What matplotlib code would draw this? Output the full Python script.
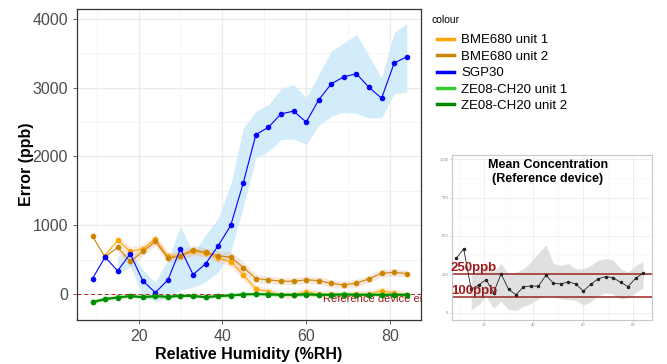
import numpy as np
import matplotlib
matplotlib.use("Agg")
import matplotlib.pyplot as plt
from matplotlib.lines import Line2D
from matplotlib.ticker import MultipleLocator

plt.rcParams['font.family'] = ['Liberation Sans', 'DejaVu Sans']

nan = np.nan

# relative humidity bins (%RH)
rh = [9, 12, 15, 18, 21, 24, 27, 30, 33, 36, 39, 42, 45, 48, 51, 54, 57, 60, 63, 66, 69, 72, 75, 78, 81, 84]

# error (ppb) per sensor
bme1 = [nan, 560, 785, 620, 659, 800, 547, 561, 620, 596, 523, 470, 281, 73, 38, -10, -10, 38, 0, 0, -10, 0, 0, 48, 15, -10]
bme1_hi = [nan, nan, 850, 690, 720, 860, 610, 620, 680, 650, 590, 540, 350, 130, 90, 40, 40, 90, 50, 50, 40, 50, 55, 100, 70, 40]
bme1_lo = [nan, nan, 720, 550, 600, 740, 490, 500, 560, 540, 460, 400, 210, 20, -15, -60, -60, -15, -50, -50, -60, -50, -50, 0, -40, -60]

bme2 = [838, 540, 678, 475, 620, 766, 523, 555, 644, 605, 557, 538, 387, 227, 208, 189, 189, 208, 198, 155, 135, 160, 223, 305, 315, 300]
bme2_hi = [nan, nan, 740, 560, 680, 830, 590, 620, 710, 670, 630, 620, 470, 290, 260, 240, 240, 260, 250, 210, 190, 215, 280, 360, 370, 350]
bme2_lo = [nan, nan, 610, 400, 560, 700, 460, 490, 580, 540, 490, 460, 310, 170, 155, 140, 140, 155, 145, 100, 80, 105, 170, 250, 260, 250]

sgp = [227, 538, 339, 586, 193, 23, 208, 659, 285, 441, 703, 999, 1619, 2317, 2424, 2618, 2657, 2497, 2822, 3054, 3156, 3200, 3001, 2845, 3354, 3447]
sgp_hi = [nan, nan, 550, 620, 360, 170, 500, 990, 600, 860, 1100, 1600, 2410, 2656, 2753, 2982, 3044, 2851, 3190, 3529, 3651, 3772, 3456, 3142, 3796, 3932]
sgp_lo = [nan, nan, 280, 400, -10, -110, -40, 60, 100, 180, 320, 620, 1270, 1978, 2074, 2244, 2254, 2172, 2448, 2583, 2641, 2623, 2560, 2560, 2913, 2933]

ze1 = [-110, -65, -45, -25, -40, -25, -35, -20, -25, -38, -25, -15, 0, 5, 0, -5, -5, 0, -5, -5, 0, -5, -5, -5, -5, -5]
ze2 = [-117, -73, -49, -29, -45, -29, -40, -24, -29, -44, -29, -20, -5, 0, -5, -10, -10, -5, -10, -10, -5, -10, -10, -10, -10, -10]

# reference device mean concentration (ppb)
ref_mean = [354, 416, 152, 181, 215, 130, 253, 152, 117, 168, 174, 172, 244, 192, 187, 201, 187, 141, 184, 221, 235, 228, 197, 170, 224, 257]
ref_hi = [nan, nan, 245, 275, 308, 264, 320, 253, 264, 286, 331, 387, 442, 320, 308, 320, 286, 286, 308, 342, 353, 342, 286, 264, 308, 331]
ref_lo = [nan, nan, 18, 52, 107, 29, 74, 20, 15, 40, 60, 90, 110, 100, 90, 85, 80, 50, 70, 110, 130, 120, 90, 95, 130, 160]
thresholds = [250, 100]
threshold_labels = ["250ppb", "100ppb"]

labels = ["BME680 unit 1", "BME680 unit 2", "SGP30", "ZE08-CH20 unit 1", "ZE08-CH20 unit 2"]
colors = ["#FFA500", "#CD8500", "#0000FF", "#32CD32", "#008B00"]

fig = plt.figure(figsize=(6.67, 3.64), dpi=100)
ax = fig.add_axes([77 / 667, 1 - 320 / 364, (421 - 77) / 667, (320 - 9) / 364])

# ribbons
ax.fill_between(rh, sgp_lo, sgp_hi, color="#d2ecfa", lw=0, zorder=1)
ax.fill_between(rh, bme2_lo, bme2_hi, color="#e0b090", alpha=0.3, lw=0, zorder=1)
ax.fill_between(rh, bme1_lo, bme1_hi, color="#fbb890", alpha=0.3, lw=0, zorder=1)
ax.fill_between(rh, np.array(ze2) - 25, np.array(ze1) + 25, color="#9be59b", alpha=0.5, lw=0, zorder=1)

ax.axhline(0, color="#B22222", lw=0.7, ls=(0, (4, 3)), zorder=2)
ax.text(64, -75, "Reference device error", color="#9B1B1B", fontsize=8, va="center", ha="left",
        zorder=2, clip_on=True)

series = [bme1, bme2, sgp, ze1, ze2]
widths = [0.8, 0.8, 0.8, 1.4, 1.4]
for ys, c, w in zip(series, colors, widths):
    ax.plot(rh, ys, color=c, lw=w, marker="o", ms=3.0, zorder=3)

ax.set_xlim(5.3, 87.4)
ax.set_ylim(-375, 4140)
ax.xaxis.set_major_locator(MultipleLocator(20))
ax.xaxis.set_minor_locator(MultipleLocator(10))
ax.yaxis.set_major_locator(MultipleLocator(1000))
ax.yaxis.set_minor_locator(MultipleLocator(500))
ax.grid(which="major", color="#EBEBEB", lw=0.9, zorder=0)
ax.grid(which="minor", color="#F3F3F3", lw=0.6, zorder=0)
ax.set_axisbelow(True)
ax.tick_params(which="major", labelsize=11.5, labelcolor="#4D4D4D", color="#4D4D4D", length=3, width=0.6)
ax.tick_params(which="minor", length=0)
for s in ax.spines.values():
    s.set_color("#333333")
    s.set_linewidth(0.9)
ax.set_xlabel("Relative Humidity (%RH)", fontsize=11.5, fontweight="bold", labelpad=2)
ax.set_ylabel("Error (ppb)", fontsize=11.5, fontweight="bold", labelpad=-1.5)

fig.text(432 / 667, 1 - 20 / 364, "colour", fontsize=7.5, va="center", ha="left")
handles = [Line2D([], [], color=c, lw=2.5) for c in colors]
fig.legend(handles, labels, loc="upper left", bbox_to_anchor=(437 / 667, 1 - 34 / 364),
           frameon=False, fontsize=9.5, handlelength=1.3, handletextpad=0.55, labelspacing=0.32,
           borderaxespad=0, borderpad=0)

# inset: mean concentration from the reference device
ins = fig.add_axes([452 / 667, 1 - 320 / 364, (652 - 452) / 667, (320 - 155) / 364])
ins.fill_between(rh, ref_lo, ref_hi, color="#d9d9d9", alpha=0.8, lw=0, zorder=1)
ins.plot(rh, ref_mean, color="#222222", lw=0.6, marker="o", ms=1.5, zorder=3)
for t, lab in zip(thresholds, threshold_labels):
    ins.axhline(t, color="#9B2323", lw=1.1, zorder=2)
    ins.text(6.8, t + 38, lab, color="#9B1B1B", fontsize=9.5, fontweight="bold", va="center", ha="left",
             zorder=4, clip_on=False)
ins.text(0.48, 0.975, "Mean Concentration\n(Reference device)", transform=ins.transAxes,
         ha="center", va="top", fontsize=9, fontweight="bold", linespacing=1.25)
ins.set_xlim(7.3, 87.6)
ins.set_ylim(-48, 1028)
ins.xaxis.set_major_locator(MultipleLocator(20))
ins.xaxis.set_minor_locator(MultipleLocator(10))
ins.yaxis.set_major_locator(MultipleLocator(250))
ins.yaxis.set_minor_locator(MultipleLocator(125))
ins.grid(which="major", color="#EBEBEB", lw=0.6, zorder=0)
ins.grid(which="minor", color="#F5F5F5", lw=0.4, zorder=0)
ins.set_axisbelow(True)
ins.tick_params(which="major", labelsize=3, labelcolor="#888888", color="#AAAAAA", length=1.5, width=0.4, pad=1)
ins.tick_params(which="minor", length=0)
for s in ins.spines.values():
    s.set_color("#C8C8C8")
    s.set_linewidth(0.8)

fig.savefig("out.png", dpi=100)
